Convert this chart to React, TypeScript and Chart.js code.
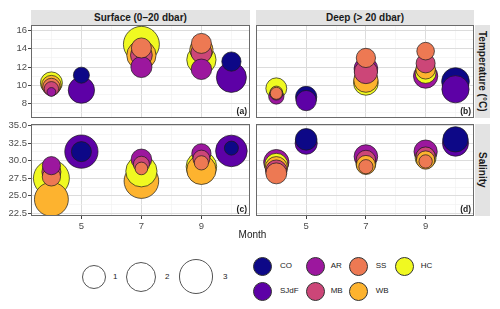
import React, { useEffect, useRef } from 'react';
import { Chart, registerables } from 'chart.js';
Chart.register(...registerables);

// ---------- data ----------
const stations = ['CO', 'SJdF', 'AR', 'MB', 'SS', 'WB', 'HC'];
const stationColors = ['#0D0887', '#5D01A6', '#9C179E', '#CC4678', '#ED7953', '#FDB32F', '#F0F921'];
const stationMonths = [[5, 10], [5, 10], [4, 7, 9], [4, 7, 9], [4, 7, 9], [4, 7, 9], [4, 7, 9]];

const surfaceTemp = [
  [11.1, 12.6],
  [9.45, 10.85],
  [9.25, 12.0, 11.75],
  [9.6, 13.3, 13.6],
  [9.8, 14.1, 14.6],
  [10.0, 13.3, 13.9],
  [10.25, 14.5, 12.8],
];
const surfaceTempSize = [
  [0.25, 0.52],
  [1.46, 2.14],
  [0.0, 0.72, 0.65],
  [0.15, 0.8, 0.7],
  [0.35, 0.6, 0.6],
  [0.55, 2.0, 1.0],
  [0.83, 3.5, 2.0],
];
const deepTemp = [
  [8.7, 10.4],
  [8.3, 9.55],
  [8.75, 11.8, 11.0],
  [9.05, 11.45, 12.4],
  [9.1, 13.0, 13.75],
  [9.2, 10.55, 11.75],
  [9.65, 10.25, 11.35],
];
const deepTempSize = [
  [0.74, 1.7],
  [0.63, 1.62],
  [0.2, 1.05, 1.14],
  [0.07, 1.0, 0.5],
  [0.05, 0.52, 0.37],
  [0.07, 1.14, 0.55],
  [0.7, 1.2, 0.7],
];
const surfaceSal = [
  [31.3, 31.8],
  [31.3, 31.4],
  [29.3, 30.2, 31.05],
  [28.4, 29.5, 30.3],
  [27.7, 28.9, 29.7],
  [24.5, 27.1, 28.7],
  [27.5, 28.5, 29.15],
];
const surfaceSalSize = [
  [0.6, 0.13],
  [2.85, 2.47],
  [0.42, 0.66, 0.52],
  [0.5, 0.25, 0.32],
  [0.43, 0.07, 0.14],
  [3.0, 3.17, 2.0],
  [3.5, 2.4, 2.26],
];
const deepSal = [
  [33.05, 33.05],
  [32.5, 32.5],
  [29.8, 30.6, 31.3],
  [28.6, 30.1, 30.6],
  [28.2, 29.15, 29.9],
  [29.0, 29.4, 30.1],
  [29.4, 29.6, 30.4],
];
const deepSalSize = [
  [0.78, 1.3],
  [0.85, 1.41],
  [1.3, 1.04, 1.0],
  [0.74, 0.55, 0.52],
  [0.7, 0.14, 0.1],
  [0.87, 0.5, 0.43],
  [1.0, 0.6, 0.7],
];

const monthTicks = [5, 7, 9];
const monthMinorTicks = [4, 6, 8, 10];
const tempTicks = [8, 10, 12, 14, 16];
const tempMinorTicks = [7, 9, 11, 13, 15];
const salTicks = [22.5, 25, 27.5, 30, 32.5, 35];
const salMinorTicks = [23.75, 26.25, 28.75, 31.25, 33.75];
const sizeBreaks = [1, 2, 3];

const monthRange = [3.32, 10.62];
const tempRange = [6.38, 16.63];
const salRange = [22.12, 35.24];

const facetCols = ['Surface (0–20 dbar)', 'Deep (> 20 dbar)'];
const facetRows = ['Temperature (°C)', 'Salinity'];
const panelTags = ['(a)', '(b)', '(c)', '(d)'];

// ---------- helpers ----------
const FONT = '"Liberation Sans", Arial, Helvetica, sans-serif';
const keyDiameter = (s: number) => 9.5 + 14.5 * Math.sqrt(Math.max(0, s));
const PAD = 6;

const borderPlugin = {
  id: 'panelBorder',
  afterDraw(chart: any) {
    const { ctx, chartArea: a } = chart;
    ctx.save();
    ctx.strokeStyle = '#6a6a6a';
    ctx.lineWidth = 1;
    ctx.strokeRect(a.left + 0.5, a.top + 0.5, a.right - a.left - 1, a.bottom - a.top - 1);
    ctx.restore();
  },
};

function scaleOpts(range: number[], major: number[], minor: number[], fmt: (v: number) => string, show: boolean, isX: boolean) {
  const isMajor = (v: any) => major.includes(v);
  return {
    type: 'linear',
    min: range[0],
    max: range[1],
    afterBuildTicks: (sc: any) => {
      sc.ticks = [...major, ...minor].sort((a, b) => a - b).map((v) => ({ value: v }));
    },
    afterFit: (sc: any) => {
      if (isX) sc.height = show ? 16 : 0;
      else sc.width = show ? 31 : 0;
      sc.paddingTop = 0;
      sc.paddingBottom = 0;
      sc.paddingLeft = 0;
      sc.paddingRight = 0;
    },
    grid: {
      color: (c: any) => (isMajor(c.tick?.value) ? '#DCDCDC' : '#F0F0F0'),
      lineWidth: (c: any) => (isMajor(c.tick?.value) ? 1 : 0.6),
      drawTicks: show,
      tickLength: 3,
      tickColor: (c: any) => (isMajor(c.tick?.value) ? '#444444' : 'rgba(0,0,0,0)'),
    },
    border: { display: false },
    ticks: {
      display: show,
      autoSkip: false,
      maxRotation: 0,
      padding: isX ? 2 : 1,
      color: '#4D4D4D',
      font: { family: FONT, size: 9.5 },
      callback: (v: any) => (isMajor(v) ? fmt(v) : ''),
    },
  };
}

function makeConfig(values: number[][], sizes: number[][], yRange: number[], yMajor: number[], yMinor: number[], yFmt: (v: number) => string, showX: boolean, showY: boolean) {
  const pts: { x: number; y: number; s: number; c: string }[] = [];
  stations.forEach((_, i) =>
    stationMonths[i].forEach((m, j) => pts.push({ x: m, y: values[i][j], s: sizes[i][j], c: stationColors[i] }))
  );
  pts.sort((a, b) => b.s - a.s);
  return {
    type: 'bubble',
    data: {
      datasets: [
        {
          data: pts.map((p) => ({ x: p.x, y: p.y, r: keyDiameter(p.s) / 2 - 0.35 })),
          backgroundColor: pts.map((p) => p.c),
          borderColor: '#1a1a1a',
          borderWidth: 0.7,
          clip: 0,
        },
      ],
    },
    options: {
      animation: false,
      responsive: true,
      maintainAspectRatio: false,
      events: [],
      layout: { padding: { top: PAD, left: 0, right: 0, bottom: 0 }, autoPadding: false },
      plugins: { legend: { display: false }, tooltip: { enabled: false } },
      scales: {
        x: scaleOpts(monthRange, monthTicks, monthMinorTicks, (v) => String(v), showX, true),
        y: scaleOpts(yRange, yMajor, yMinor, yFmt, showY, false),
      },
    },
    plugins: [borderPlugin],
  };
}

function Panel({ left, top, width, height, config }: any) {
  const ref = useRef<HTMLCanvasElement>(null);
  useEffect(() => {
    const chart = new Chart(ref.current as HTMLCanvasElement, config as any);
    return () => chart.destroy();
  }, []);
  return (
    <div style={{ position: 'absolute', left, top, width, height }}>
      <canvas ref={ref} />
    </div>
  );
}

const fmtInt = (v: number) => String(v);
const fmt1 = (v: number) => v.toFixed(1);

export default function App() {
  useEffect(() => {
    document.body.style.margin = '0';
  }, []);

  const colL = [31, 250];
  const colR = [256, 474];
  const rowT = [25, 118];
  const rowB = [124, 216];

  const panels = [
    { key: 'a', left: 0, top: rowT[0] - PAD, width: colL[1], height: rowT[1] - rowT[0] + PAD, cfg: makeConfig(surfaceTemp, surfaceTempSize, tempRange, tempTicks, tempMinorTicks, fmtInt, false, true) },
    { key: 'b', left: colR[0], top: rowT[0] - PAD, width: colR[1] - colR[0], height: rowT[1] - rowT[0] + PAD, cfg: makeConfig(deepTemp, deepTempSize, tempRange, tempTicks, tempMinorTicks, fmtInt, false, false) },
    { key: 'c', left: 0, top: rowB[0] - PAD, width: colL[1], height: rowB[1] - rowB[0] + 16 + PAD, cfg: makeConfig(surfaceSal, surfaceSalSize, salRange, salTicks, salMinorTicks, fmt1, true, true) },
    { key: 'd', left: colR[0], top: rowB[0] - PAD, width: colR[1] - colR[0], height: rowB[1] - rowB[0] + 16 + PAD, cfg: makeConfig(deepSal, deepSalSize, salRange, salTicks, salMinorTicks, fmt1, true, false) },
  ];

  const tagPos = [
    [colL[1], rowT[1]],
    [colR[1], rowT[1]],
    [colL[1], rowB[1]],
    [colR[1], rowB[1]],
  ];

  const sizeKeyX = [93.7, 141.3, 196];
  const sizeLabelX = [113, 165, 223];
  const sizeKeyY = 276.7;
  const colKeyX = [262.7, 315, 358.7, 404];
  const colLabelX = [280, 330.7, 375.7, 420.7];
  const rowKeyY = [266, 291];

  return (
    <div style={{ position: 'absolute', left: 0, top: 0, width: 500, height: 309, background: '#fff', fontFamily: FONT, overflow: 'hidden' }}>
      {panels.map((p) => (
        <Panel key={p.key} left={p.left} top={p.top} width={p.width} height={p.height} config={p.cfg} />
      ))}
      {facetCols.map((t, i) => {
        const c = i === 0 ? colL : colR;
        return (
          <div key={t} style={{ position: 'absolute', left: c[0], top: 9.5, width: c[1] - c[0], height: 15.5, background: '#E3E3E3', color: '#1A1A1A', fontWeight: 'bold', fontSize: 10, lineHeight: '15.5px', textAlign: 'center', whiteSpace: 'nowrap' }}>
            {t}
          </div>
        );
      })}
      {facetRows.map((t, i) => {
        const r = i === 0 ? rowT : rowB;
        return (
          <div key={t} style={{ position: 'absolute', left: 474.5, top: r[0], width: 15.5, height: r[1] - r[0], background: '#E3E3E3', display: 'flex', alignItems: 'center', justifyContent: 'center' }}>
            <span style={{ writingMode: 'vertical-rl', color: '#1A1A1A', fontWeight: 'bold', fontSize: 10, whiteSpace: 'nowrap' }}>{t}</span>
          </div>
        );
      })}
      {panelTags.map((t, i) => (
        <div key={t} style={{ position: 'absolute', left: tagPos[i][0] - 43, top: tagPos[i][1] - 12, width: 40, height: 11, textAlign: 'right', fontWeight: 'bold', fontSize: 8.5, lineHeight: '11px', color: '#1A1A1A' }}>
          {t}
        </div>
      ))}
      <div style={{ position: 'absolute', left: colL[0], width: colR[1] - colL[0], top: 229, height: 12, textAlign: 'center', fontSize: 10, lineHeight: '12px', color: '#1A1A1A' }}>Month</div>
      {sizeBreaks.map((b, i) => {
        const d = keyDiameter(b);
        return (
          <React.Fragment key={'s' + b}>
            <div style={{ position: 'absolute', left: sizeKeyX[i] - d / 2, top: sizeKeyY - d / 2, width: d, height: d, borderRadius: '50%', border: '1px solid #555', boxSizing: 'border-box', background: '#fff' }} />
            <div style={{ position: 'absolute', left: sizeLabelX[i], top: sizeKeyY - 6, height: 12, lineHeight: '12px', fontSize: 8, color: '#1A1A1A' }}>{b}</div>
          </React.Fragment>
        );
      })}
      {stations.map((s, i) => {
        const col = Math.floor(i / 2);
        const row = i % 2;
        const d = 19;
        return (
          <React.Fragment key={s}>
            <div style={{ position: 'absolute', left: colKeyX[col] - d / 2, top: rowKeyY[row] - d / 2, width: d, height: d, borderRadius: '50%', border: '0.8px solid #333', boxSizing: 'border-box', background: stationColors[i] }} />
            <div style={{ position: 'absolute', left: colLabelX[col], top: rowKeyY[row] - 6, height: 12, lineHeight: '12px', fontSize: 8, color: '#1A1A1A' }}>{s}</div>
          </React.Fragment>
        );
      })}
    </div>
  );
}
